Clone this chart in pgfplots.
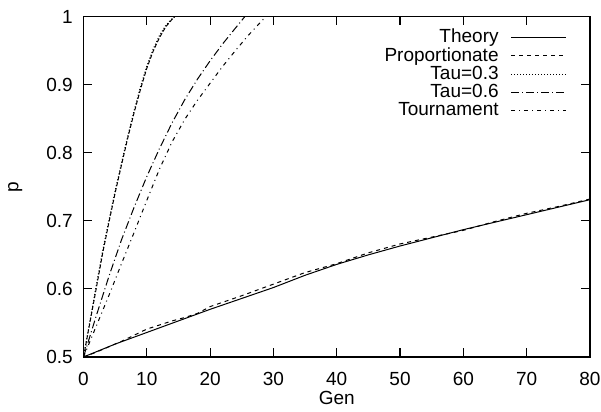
\documentclass[border=0pt]{standalone}
\usepackage{fontspec}
\setmainfont{Liberation Sans}
\usepackage{pgfplots}
\pgfplotsset{compat=1.18}
\begin{document}
\fontsize{9.5}{11.5}\selectfont
\begin{tikzpicture}
\useasboundingbox (-41.75pt,-27.5pt) rectangle (258.75pt,178.5pt);
\begin{axis}[
  at={(0,0)}, anchor=south west,
  scale only axis,
  width=253.25pt, height=170.25pt,
  xmin=0, xmax=80, ymin=0.5, ymax=1,
  xtick={0,10,...,80},
  ytick={0.5,0.6,...,1.0},
  yticklabels={0.5,0.6,0.7,0.8,0.9,1},
  /pgf/number format/assume math mode=true,
  xticklabel style={font=\fontsize{9.5}{11.5}\selectfont, yshift=-4.5pt},
  yticklabel style={font=\fontsize{9.5}{11.5}\selectfont, xshift=-2pt},
  tick align=inside,
  major tick length=4.5pt,
  axis line style={line width=0.9pt},
  every tick/.style={line width=0.6pt, black},
  xlabel={Gen}, ylabel={p},
  xlabel style={font=\fontsize{9.5}{11.5}\selectfont, yshift=4pt},
  ylabel style={font=\fontsize{9.5}{11.5}\selectfont, yshift=5.5pt},
  legend cell align=right,
  legend plot pos=right,
  legend style={draw=none, fill=none, at={(1,1)}, anchor=north east, xshift=-8.5pt, yshift=-2pt,
    font=\fontsize{9.5}{11.5}\selectfont, row sep=-3pt},
  legend image code/.code={\path (3.5pt,0pt); \draw[#1] (7.5pt,0pt) -- (35pt,0pt);},
  every axis plot/.append style={line width=0.5pt, black},
]
% Theory
\addplot[solid] coordinates {(0,0.5)(5,0.519)(10,0.536)(15,0.553)(20,0.57)(25,0.586)(30,0.602)(35,0.62)(40,0.636)(45,0.65)(50,0.663)(55,0.675)(60,0.687)(65,0.698)(70,0.709)(75,0.72)(80,0.731)};
\addlegendentry{Theory}
% Proportionate
\addplot[dash pattern=on 2pt off 2pt] coordinates {(0,0.5)(2,0.507)(4,0.515)(6,0.523)(8,0.532)(10,0.541)(12,0.547)(14,0.553)(16,0.558)(18,0.564)(20,0.574)(25,0.59)(30,0.607)(35,0.624)(40,0.637)(45,0.653)(50,0.666)(55,0.676)(60,0.686)(65,0.699)(70,0.711)(75,0.721)(80,0.732)};
\addlegendentry{Proportionate}
% Tau=0.3
\addplot[dash pattern=on 0.5pt off 1pt] coordinates {(0,0.5)(1,0.552)(2,0.604)(3,0.655)(4,0.700)(5,0.744)(6,0.785)(7,0.825)(8,0.862)(9,0.897)(10,0.927)(11,0.952)(12,0.972)(13,0.987)(14,0.997)(14.6,1.0)};
\addlegendentry{Tau=0.3}
% Tau=0.6
\addplot[dash pattern=on 4pt off 1.5pt on 0.5pt off 1.5pt] coordinates {(0,0.5)(2,0.56)(4,0.618)(6,0.672)(8,0.72)(10,0.765)(12,0.806)(14,0.844)(16,0.878)(18,0.908)(20,0.935)(22,0.96)(24,0.983)(25.5,1.0)};
\addlegendentry{Tau=0.6}
% Tournament
\addplot[dash pattern=on 2pt off 2pt on 0.5pt off 2pt] coordinates {(0,0.5)(2,0.545)(4,0.59)(6,0.637)(8,0.683)(10,0.73)(12,0.776)(14,0.816)(16,0.849)(18,0.877)(20,0.902)(22,0.927)(24,0.95)(26,0.972)(28,0.992)(28.8,1.0)};
\addlegendentry{Tournament}
% companion of the steepest curve
\addplot[dash pattern=on 2pt off 1pt, forget plot] coordinates {(0,0.5)(1,0.55)(2,0.6)(3,0.651)(4,0.697)(5,0.741)(6,0.782)(7,0.822)(8,0.859)(9,0.893)(10,0.924)(11,0.949)(12,0.969)(13,0.985)(14,0.996)(14.4,1.0)};
\end{axis}
\end{tikzpicture}
\end{document}
